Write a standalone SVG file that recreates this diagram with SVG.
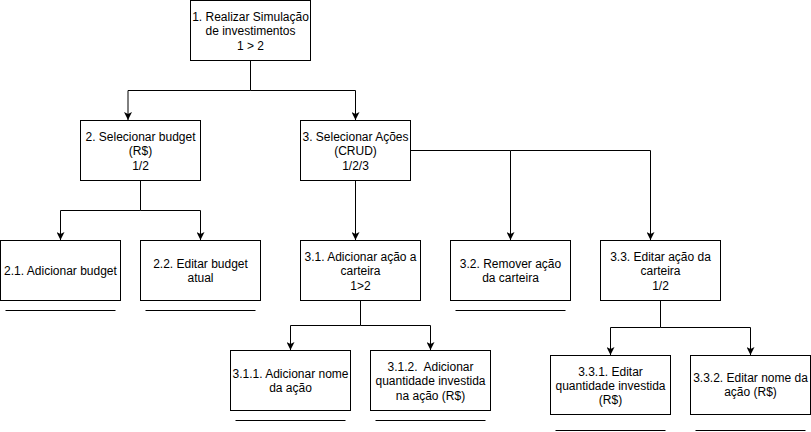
<svg xmlns="http://www.w3.org/2000/svg" width="811" height="432" viewBox="0 0 811 432">
<defs>
<style>
.box{fill:#fff;stroke:#000;stroke-width:1}
.t{font-family:"Liberation Sans",Arial,sans-serif;font-size:12px;fill:#000;text-anchor:middle;white-space:pre}
.c{fill:none;stroke:#000;stroke-width:1}
.u{stroke:#000;stroke-width:1}
</style>
<marker id="arr" viewBox="0 0 8 8" refX="8" refY="4" markerWidth="8" markerHeight="8" markerUnits="userSpaceOnUse" orient="auto">
<path d="M0,0 L8,4 L0,8 L2,4 Z" fill="#000"/>
</marker>
</defs>
<rect width="811" height="432" fill="#fff"/>
<g id="connectors">
<path class="c" marker-end="url(#arr)" d="M250.5,60.5 V90.5 H128 V120"/>
<path class="c" marker-end="url(#arr)" d="M250.5,90.5 H355.5 V120"/>
<path class="c" marker-end="url(#arr)" d="M140.5,180.5 V210.5 H60.5 V240"/>
<path class="c" marker-end="url(#arr)" d="M140.5,210.5 H200.5 V240"/>
<path class="c" marker-end="url(#arr)" d="M355.5,180.5 V240"/>
<path class="c" marker-end="url(#arr)" d="M410.5,150.5 H510.5 V240"/>
<path class="c" marker-end="url(#arr)" d="M510.5,150.5 H650.5 V240"/>
<path class="c" marker-end="url(#arr)" d="M360.5,300.5 V325.5 H290.5 V350"/>
<path class="c" marker-end="url(#arr)" d="M360.5,325.5 H430.5 V350"/>
<path class="c" marker-end="url(#arr)" d="M660.5,300.5 V327.5 H610.5 V355"/>
<path class="c" marker-end="url(#arr)" d="M660.5,327.5 H750.5 V355"/>
</g>
<g id="n1"><rect class="box" x="190.5" y="0.5" width="120" height="60"/>
<text class="t" x="250.5" y="21">1. Realizar Simulação</text>
<text class="t" x="250.5" y="35">de investimentos</text>
<text class="t" x="250.5" y="49.5">1 &gt; 2</text></g>
<g id="n2"><rect class="box" x="80.5" y="120.5" width="120" height="60"/>
<text class="t" x="140.5" y="141">2. Selecionar budget</text>
<text class="t" x="140.5" y="155">(R$)</text>
<text class="t" x="140.5" y="169.5">1/2</text></g>
<g id="n3"><rect class="box" x="300.5" y="120.5" width="110" height="60"/>
<text class="t" x="355.5" y="141">3. Selecionar Ações</text>
<text class="t" x="355.5" y="155">(CRUD)</text>
<text class="t" x="355.5" y="169.5">1/2/3</text></g>
<g id="n21"><rect class="box" x="0.5" y="240.5" width="120" height="60"/>
<text class="t" x="60.5" y="274.5">2.1. Adicionar budget</text>
<line class="u" x1="5.5" y1="310.5" x2="115.5" y2="310.5"/></g>
<g id="n22"><rect class="box" x="140.5" y="240.5" width="120" height="60"/>
<text class="t" x="200.5" y="267.5">2.2. Editar budget</text>
<text class="t" x="200.5" y="281.5">atual</text>
<line class="u" x1="145.5" y1="310.5" x2="255.5" y2="310.5"/></g>
<g id="n31"><rect class="box" x="300.5" y="240.5" width="120" height="60"/>
<text class="t" x="360.5" y="261">3.1. Adicionar ação a</text>
<text class="t" x="360.5" y="275">carteira</text>
<text class="t" x="360.5" y="289.5">1&gt;2</text></g>
<g id="n32"><rect class="box" x="450.5" y="240.5" width="120" height="60"/>
<text class="t" x="510.5" y="267.5">3.2. Remover ação</text>
<text class="t" x="510.5" y="281.5">da carteira</text>
<line class="u" x1="455.5" y1="310.5" x2="565.5" y2="310.5"/></g>
<g id="n33"><rect class="box" x="600.5" y="240.5" width="120" height="60"/>
<text class="t" x="660.5" y="261">3.3. Editar ação da</text>
<text class="t" x="660.5" y="275">carteira</text>
<text class="t" x="660.5" y="289.5">1/2</text></g>
<g id="n311"><rect class="box" x="230.5" y="350.5" width="120" height="60"/>
<text class="t" x="290.5" y="377.5">3.1.1. Adicionar nome</text>
<text class="t" x="290.5" y="391.5">da ação</text>
<line class="u" x1="235.5" y1="420.5" x2="345.5" y2="420.5"/></g>
<g id="n312"><rect class="box" x="370.5" y="350.5" width="120" height="60"/>
<text class="t" x="430.5" y="371">3.1.2.  Adicionar</text>
<text class="t" x="430.5" y="385">quantidade investida</text>
<text class="t" x="430.5" y="399.5">na ação (R$)</text>
<line class="u" x1="375.5" y1="420.5" x2="485.5" y2="420.5"/></g>
<g id="n331"><rect class="box" x="550.5" y="355.5" width="120" height="59"/>
<text class="t" x="610.5" y="375.5">3.3.1. Editar</text>
<text class="t" x="610.5" y="389.5">quantidade investida</text>
<text class="t" x="610.5" y="404">(R$)</text>
<line class="u" x1="555.5" y1="430.5" x2="665.5" y2="430.5"/></g>
<g id="n332"><rect class="box" x="690.5" y="355.5" width="120" height="59"/>
<text class="t" x="750.5" y="382">3.3.2. Editar nome da</text>
<text class="t" x="750.5" y="396">ação (R$)</text>
<line class="u" x1="695.5" y1="430.5" x2="805.5" y2="430.5"/></g>
</svg>
